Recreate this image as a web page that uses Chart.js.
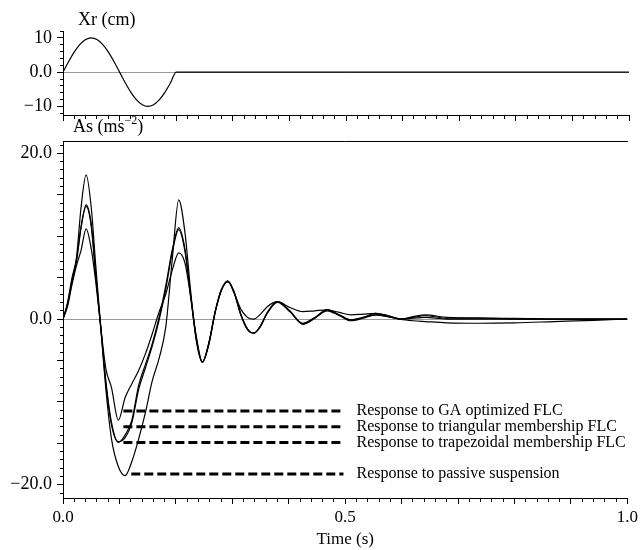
<!DOCTYPE html>
<html>
<head>
<meta charset="utf-8">
<title>Xr / As response</title>
<script src="https://cdn.jsdelivr.net/npm/chart.js@4.4.1/dist/chart.umd.min.js"></script>
<style>
  body { margin: 0; background: #fff; }
  #wrap { position: relative; width: 641px; height: 550px; }
  #wrap canvas { position: absolute; left: 0; top: 0; }
</style>
</head>
<body>
<div id="wrap">
  <canvas id="xrChart" width="641" height="135"></canvas>
  <canvas id="asChart" width="641" height="550"></canvas>
</div>
<script>
// === DATA ===
// road input Xr (cm)
const xrTime = [0, 0.01, 0.02, 0.03, 0.04, 0.05, 0.06, 0.07, 0.08, 0.09, 0.1,
  0.11, 0.12, 0.13, 0.14, 0.15, 0.16, 0.17, 0.18, 0.19, 0.2, 1.0];
const xrValues = [0, 3.1, 5.9, 8.1, 9.5, 10, 9.5, 8.1, 5.9, 3.1, 0,
  -3.1, -5.9, -8.1, -9.5, -10, -9.5, -8.1, -5.9, -3.1, 0, 0];

// body acceleration As (ms^-2)
const timeS = [0, 0.008, 0.016, 0.024, 0.032, 0.041, 0.05, 0.058, 0.067, 0.076,
  0.086, 0.098, 0.11, 0.122, 0.134, 0.146, 0.158, 0.17, 0.182, 0.194,
  0.205, 0.216, 0.226, 0.236, 0.247, 0.258, 0.27, 0.281, 0.292, 0.303,
  0.315, 0.327, 0.338, 0.35, 0.362, 0.38, 0.402, 0.425, 0.446, 0.468,
  0.49, 0.51, 0.532, 0.554, 0.576, 0.598, 0.62, 0.642, 0.68, 0.737,
  0.8, 0.87, 0.94, 1.0];

const passive = [0, 2.0, 5.0, 7.5, 13.5, 17.4, 13.5, 6.5, -1.0, -8.5,
  -14.5, -17.8, -18.9, -17.2, -14.5, -11.3, -7.5, -4.8, -1.0, 7.5,
  14.4, 10.5, 3.5, -2.5, -5.2, -3.2, 1.0, 3.6, 4.6, 3.3,
  0.6, -1.2, -1.7, -0.8, 0.8, 2.1, 0.9, -0.5, 0.2, 1.1,
  0.5, -0.1, 0.2, 0.7, 0.4, 0.0, -0.2, -0.3, -0.45, -0.5,
  -0.45, -0.3, -0.15, 0];

const triangular = [0, 1.8, 4.5, 7.0, 11.0, 13.8, 11.5, 5.5, -1.0, -7.5,
  -12.5, -14.9, -14.0, -12.2, -8.0, -5.5, -3.0, 0.1, 4.0, 8.5,
  11.0, 8.5, 3.0, -2.2, -5.2, -3.0, 1.0, 3.6, 4.6, 3.3,
  0.6, -1.2, -1.7, -0.8, 0.8, 2.1, 1.0, -0.6, 0.1, 1.1,
  0.5, -0.1, 0.2, 0.5, 0.3, 0.0, 0.2, 0.4, 0.1, 0.15,
  0.0, 0.0, 0.0, 0];

const trapezoidal = [0, 1.8, 4.6, 7.2, 11.2, 13.6, 11.2, 5.2, -1.2, -7.8,
  -12.8, -14.8, -14.3, -12.5, -8.5, -5.9, -3.3, -0.2, 3.6, 8.2,
  10.8, 8.2, 2.8, -2.4, -5.2, -3.1, 0.9, 3.5, 4.5, 3.2,
  0.5, -1.3, -1.7, -0.9, 0.7, 2.0, 0.9, -0.6, 0.1, 1.0,
  0.4, -0.2, 0.1, 0.5, 0.3, 0.0, 0.1, 0.2, 0.0, 0.0,
  0.0, 0.0, 0.0, 0];

const gaOptimized = [0, 1.5, 4.2, 6.5, 8.3, 10.9, 8.5, 4.5, -1.0, -6.0,
  -8.3, -12.2, -9.5, -7.8, -6.2, -4.2, -1.8, 0.8, 3.0, 6.0,
  8.0, 6.8, 2.8, -2.0, -5.2, -3.0, 1.0, 3.6, 4.6, 3.2,
  1.2, 0.2, 0.0, 0.6, 1.5, 2.1, 1.4, 0.9, 1.0, 1.1,
  0.8, 0.5, 0.6, 0.7, 0.4, 0.0, 0.3, 0.5, 0.2, 0.1,
  0.1, 0.0, 0.0, 0];

// dashed pointer lines with their captions
const pointerLabels = [
  'Response to GA optimized FLC',
  'Response to triangular membership FLC',
  'Response to trapezoidal membership FLC',
  'Response to passive suspension'
];
const pointerStart = [0.107, 0.107, 0.107, 0.121];
const pointerEnd = [0.497, 0.497, 0.497, 0.497];
const pointerLevel = [-11.1, -13.0, -14.9, -18.7];

const FONT = "'Liberation Serif', 'Times New Roman', serif";

function pairs(xs, ys) {
  return xs.map((x, i) => ({ x: x, y: ys[i] }));
}

// long tick on majors, short (dashed) on minors
function isMajor(v, step) {
  return Math.abs(Math.round(v / step) * step - v) < 1e-6;
}

document.addEventListener("DOMContentLoaded", function () {
  Chart.defaults.font.family = FONT;
  Chart.defaults.color = '#000';

  const curve = (data) => ({
    data: data,
    borderColor: '#000',
    borderWidth: 1.2,
    pointRadius: 0,
    fill: false,
    cubicInterpolationMode: 'monotone'
  });

  // === TOP PANEL: Xr ===
  new Chart(document.getElementById('xrChart'), {
    type: 'line',
    data: { datasets: [curve(pairs(xrTime, xrValues))] },
    options: {
      responsive: false,
      animation: false,
      events: [],
      layout: { padding: { top: 31, right: 12, bottom: 14, left: 0 } },
      plugins: { legend: { display: false }, tooltip: { enabled: false } },
      scales: {
        x: {
          type: 'linear', min: 0, max: 1,
          afterFit: s => { s.height = 6; },
          border: { color: '#000' },
          grid: {
            drawOnChartArea: false, tickLength: 6, tickColor: '#000',
            tickBorderDash: c => isMajor(c.tick.value, 0.1) ? [] : [3, 100]
          },
          ticks: { stepSize: 0.02, autoSkip: false, display: false }
        },
        y: {
          min: -12.5, max: 12,
          afterFit: s => { s.width = 63; },
          border: { color: '#000' },
          grid: {
            tickLength: 6, tickColor: '#000',
            color: c => c.tick && c.tick.value === 0 ? '#9a9a9a' : 'rgba(0,0,0,0)',
            tickBorderDash: c => isMajor(c.tick.value, 10) ? [] : [0, 3, 3, 100]
          },
          ticks: {
            stepSize: 2, autoSkip: false, includeBounds: false, padding: 5,
            font: { size: 18 },
            callback: function (v) {
              if (v === 10) return '10';
              if (v === 0) return '0.0';
              if (v === -10) return '\u221210';
              return '';
            }
          }
        }
      }
    },
    plugins: [{
      id: 'xrTitle',
      afterDraw(chart) {
        const ctx = chart.ctx;
        ctx.save();
        ctx.fillStyle = '#000';
        ctx.textBaseline = 'middle';
        ctx.font = '18px ' + FONT;
        ctx.fillText('Xr (cm)', 78, 20);
        ctx.restore();
      }
    }]
  });

  // === BOTTOM PANEL: As ===
  const datasets = [
    curve(pairs(timeS, passive)),
    curve(pairs(timeS, triangular)),
    curve(pairs(timeS, trapezoidal)),
    curve(pairs(timeS, gaOptimized))
  ];
  pointerLabels.forEach((label, i) => {
    datasets.push({
      label: label,
      isPointer: true,
      data: [{ x: pointerStart[i], y: pointerLevel[i] }, { x: pointerEnd[i], y: pointerLevel[i] }],
      borderColor: '#000',
      borderWidth: 3,
      borderDash: [9, 4],
      pointRadius: 0,
      fill: false
    });
  });

  new Chart(document.getElementById('asChart'), {
    type: 'line',
    data: { datasets: datasets },
    options: {
      responsive: false,
      animation: false,
      events: [],
      layout: { padding: { top: 141, right: 12, bottom: 0, left: 0 } },
      plugins: { legend: { display: false }, tooltip: { enabled: false } },
      scales: {
        x: {
          type: 'linear', min: 0, max: 1,
          afterFit: s => { s.height = 52; },
          border: { color: '#000' },
          grid: {
            drawOnChartArea: false, tickLength: 6, tickColor: '#000',
            tickBorderDash: c => isMajor(c.tick.value, 0.1) ? [] : [3, 100]
          },
          ticks: {
            stepSize: 0.02, autoSkip: false, maxRotation: 0, padding: 3,
            font: { size: 17 },
            callback: function (v) {
              const k = Math.round(v * 100);
              if (k === 0) return '0.0';
              if (k === 50) return '0.5';
              if (k === 100) return '1.0';
              return '';
            }
          },
          title: { display: true, text: 'Time (s)', font: { size: 17 }, padding: { top: 0, bottom: 0 } }
        },
        xTop: {
          type: 'linear', position: 'top', min: 0, max: 1,
          afterFit: s => { s.height = 0; },
          border: { color: '#000' },
          grid: { display: false, drawTicks: false },
          ticks: { display: false }
        },
        y: {
          // range not a whole number of steps, so ticks stay on integers
          min: -21.6, max: 21.5,
          afterFit: s => { s.width = 63; },
          border: { color: '#000' },
          grid: {
            tickLength: 6, tickColor: '#000',
            color: c => c.tick && c.tick.value === 0 ? '#9a9a9a' : 'rgba(0,0,0,0)',
            tickBorderDash: c => isMajor(c.tick.value, 5) ? [] : [0, 3, 3, 100]
          },
          ticks: {
            stepSize: 1, autoSkip: false, includeBounds: false, padding: 5,
            font: { size: 18 },
            callback: function (v) {
              if (v === 20) return '20.0';
              if (v === 0) return '0.0';
              if (v === -20) return '\u221220.0';
              return '';
            }
          }
        }
      }
    },
    plugins: [{
      id: 'asText',
      afterDraw(chart) {
        const ctx = chart.ctx;
        ctx.save();
        ctx.fillStyle = '#000';
        ctx.textBaseline = 'middle';

        // panel title with superscript
        ctx.font = '18px ' + FONT;
        ctx.fillText('As (ms', 73, 127);
        let x = 73 + ctx.measureText('As (ms').width;
        ctx.font = '12px ' + FONT;
        ctx.fillText('\u22122', x, 121);
        x += ctx.measureText('\u22122').width;
        ctx.font = '18px ' + FONT;
        ctx.fillText(')', x, 127);

        // captions at the end of the dashed pointers
        ctx.font = '16px ' + FONT;
        chart.data.datasets.forEach((ds, i) => {
          if (!ds.isPointer) return;
          const pts = chart.getDatasetMeta(i).data;
          const last = pts[pts.length - 1];
          ctx.fillText(ds.label, last.x + 13, last.y);
        });
        ctx.restore();
      }
    }]
  });
});
</script>
</body>
</html>
